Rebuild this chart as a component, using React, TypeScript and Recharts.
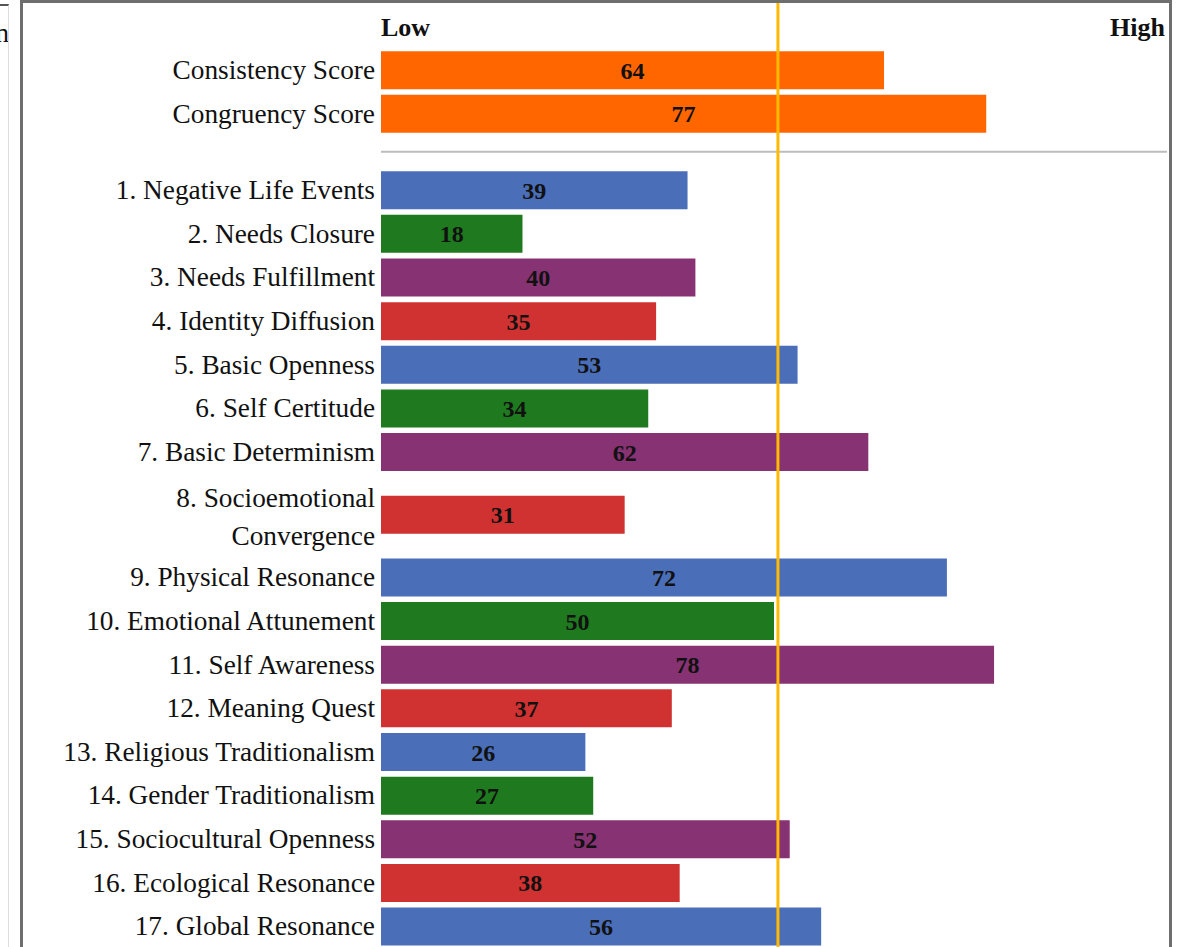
import React from 'react';
import { BarChart, Bar, XAxis, YAxis, Cell, LabelList, ReferenceLine } from 'recharts';

const scoreLabels = ['Consistency Score', 'Congruency Score'];
const scoreValues = [64, 77];

const scaleLabels = [
  '1. Negative Life Events',
  '2. Needs Closure',
  '3. Needs Fulfillment',
  '4. Identity Diffusion',
  '5. Basic Openness',
  '6. Self Certitude',
  '7. Basic Determinism',
  '8. Socioemotional\nConvergence',
  '9. Physical Resonance',
  '10. Emotional Attunement',
  '11. Self Awareness',
  '12. Meaning Quest',
  '13. Religious Traditionalism',
  '14. Gender Traditionalism',
  '15. Sociocultural Openness',
  '16. Ecological Resonance',
  '17. Global Resonance',
];
const scaleValues = [39, 18, 40, 35, 53, 34, 62, 31, 72, 50, 78, 37, 26, 27, 52, 38, 56];

const scaleEnds = ['Low', 'High'];
const midline = 50.5;

const SCORE_COLOR = '#FF6600';
const SCALE_COLORS = ['#4A6EB8', '#1F7A1F', '#873272', '#D03232'];
const MIDLINE_COLOR = '#FFB900';
const FONT = '"Liberation Serif", "Times New Roman", serif';

const CHART_W = 1146;
const CHART_H = 944;
const LABEL_W = 358;
const ROW_PX = 43.65; // pixel pitch of one row
const FIRST_ROW_Y = 67; // centre of the first bar, from chart top
const LINE_PX = 38; // extra height per wrapped label line
const SECTION_GAP = 0.75; // rows between the scores and the scales

type Row = { label: string; value: number; pos: number; color: string };

// lay the rows out on a numeric axis so wrapped labels get a taller slot
const rows: Row[] = [];
let cursor = 0;
scoreLabels.forEach((label, i) => {
  rows.push({ label, value: scoreValues[i], pos: cursor, color: SCORE_COLOR });
  cursor += 1;
});
const lastScorePos = cursor - 1;
cursor += SECTION_GAP;
const separatorPos = (lastScorePos + cursor) / 2;
scaleLabels.forEach((label, i) => {
  const extra = ((label.split('\n').length - 1) * LINE_PX) / ROW_PX;
  cursor += extra / 2;
  rows.push({ label, value: scaleValues[i], pos: cursor, color: SCALE_COLORS[i % SCALE_COLORS.length] });
  cursor += 1 + extra / 2;
});

const headerPos = -1;
const domainMin = -FIRST_ROW_Y / ROW_PX;
const domainMax = domainMin + CHART_H / ROW_PX;

const RowTick = (props: any) => {
  const { x, y, payload } = props;
  const row = rows.find((r) => Math.abs(r.pos - payload.value) < 1e-6);
  if (!row) return null;
  const lines = row.label.split('\n');
  const top = y - ((lines.length - 1) * LINE_PX) / 2 + (lines.length > 1 ? 2 : 0);
  return (
    <text x={x} y={top} textAnchor="end" dominantBaseline="central" fontFamily={FONT} fontSize={27.3} fill="#111">
      {lines.map((line, i) => (
        <tspan key={i} x={x} y={top + i * LINE_PX}>
          {line}
        </tspan>
      ))}
    </text>
  );
};

const endLabel = (value: string, position: 'insideLeft' | 'insideRight', offset: number) => ({
  value,
  position,
  offset,
  fill: '#111',
  fontFamily: FONT,
  fontSize: 26,
  fontWeight: 'bold',
});

export default function App() {
  return (
    <div style={{ position: 'fixed', left: 0, top: 0, width: 1192, height: 947, overflow: 'hidden', background: '#fff', fontFamily: FONT }}>
      {/* clipped edge of the neighbouring panel */}
      <div style={{ position: 'absolute', left: 0, top: 4, width: 8, height: 943, borderTop: '2px solid #555', borderRight: '1px solid #ddd', overflow: 'hidden' }}>
        <div style={{ position: 'absolute', right: -1, top: 12, fontSize: 27, lineHeight: '30px', color: '#111' }}>n</div>
      </div>

      <div style={{ position: 'absolute', left: 20, top: 0, width: CHART_W, height: 970, border: '3px solid #6e6e6e', borderBottom: 'none' }}>
        <BarChart layout="vertical" width={CHART_W} height={CHART_H} data={rows} margin={{ top: 0, right: 2, bottom: 0, left: 0 }}>
          <XAxis type="number" domain={[0, 100]} hide />
          <YAxis
            type="number"
            dataKey="pos"
            domain={[domainMin, domainMax]}
            allowDataOverflow
            ticks={rows.map((r) => r.pos)}
            interval={0}
            width={LABEL_W}
            axisLine={false}
            tickLine={false}
            tickSize={0}
            tickMargin={6}
            tick={<RowTick />}
          />
          <ReferenceLine y={separatorPos} stroke="#BDBDBD" strokeWidth={2} />
          <ReferenceLine y={headerPos} stroke="none" label={endLabel(scaleEnds[0], 'insideLeft', 0)} />
          <ReferenceLine y={headerPos} stroke="none" label={endLabel(scaleEnds[1], 'insideRight', 2)} />
          <Bar dataKey="value" barSize={38} isAnimationActive={false}>
            {rows.map((r) => (
              <Cell key={r.label} fill={r.color} />
            ))}
            <LabelList dataKey="value" position="center" fill="#111" fontFamily={FONT} fontSize={24} fontWeight="bold" />
          </Bar>
          <ReferenceLine x={midline} stroke={MIDLINE_COLOR} strokeWidth={3} />
        </BarChart>
      </div>
    </div>
  );
}
